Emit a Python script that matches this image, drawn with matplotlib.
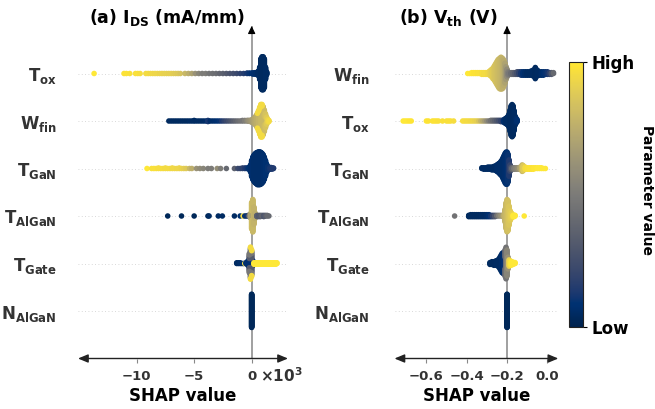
import numpy as np
import matplotlib
matplotlib.use("Agg")
import matplotlib.pyplot as plt
from matplotlib.colors import Normalize
from matplotlib.cm import ScalarMappable
from matplotlib.transforms import blended_transform_factory

plt.rcParams["font.family"] = ["DejaVu Sans"]
plt.rcParams["font.weight"] = "bold"
plt.rcParams["axes.labelweight"] = "bold"

# ---------------------------------------------------------------------------
# (a) I_DS : SHAP values in units of 10^3 mA/mm
#     *_shap = SHAP value, *_n = number of samples at that value,
#     *_level = normalised parameter value (0 = low, 1 = high)
# ---------------------------------------------------------------------------
ids_tox_shap = [-13.7, -11.1, -10.9, -10.6, -10.1, -9.9, -9.7,
                -9.2, -9.0, -8.8, -8.6, -8.4, -8.2, -8.0, -7.8, -7.6, -7.4, -7.2, -7.0, -6.8, -6.6, -6.4, -6.2,
                -5.8, -5.5, -5.2, -4.9, -4.6, -4.3, -4.0, -3.7, -3.4, -3.1, -2.8, -2.5, -2.2, -1.9, -1.6, -1.3,
                -1.0, -0.7, -0.4, -0.2,
                0.0, 0.1, 0.2, 0.3, 0.4, 0.5, 0.6, 0.7, 0.8, 0.9, 1.0, 1.1, 1.2, 1.3]
ids_tox_n = [1, 1, 1, 1, 1, 1, 1,
             1, 1, 1, 1, 1, 1, 1, 1, 1, 1, 1, 1, 1, 1, 1, 1,
             1, 1, 1, 1, 1, 1, 1, 1, 1, 1, 1, 1, 1, 1, 1, 1,
             1, 1, 2, 2,
             2, 3, 3, 4, 5, 7, 12, 30, 70, 80, 80, 70, 30, 8]
ids_tox_level = [1.0, 0.98, 0.98, 0.97, 0.97, 0.97, 0.96,
                 0.95, 0.95, 0.94, 0.94, 0.93, 0.93, 0.92, 0.92, 0.91, 0.91, 0.9, 0.9, 0.89, 0.88, 0.87, 0.85,
                 0.8, 0.75, 0.7, 0.62, 0.55, 0.5, 0.5, 0.46, 0.44, 0.42, 0.38, 0.35, 0.32, 0.28, 0.25, 0.22,
                 0.18, 0.15, 0.12, 0.1,
                 0.08, 0.08, 0.07, 0.07, 0.06, 0.06, 0.05, 0.05, 0.04, 0.04, 0.04, 0.04, 0.05, 0.05]

ids_wfin_shap = [-7.2, -7.0, -6.8, -6.6, -6.4, -6.2, -6.0, -5.8, -5.6, -5.4, -5.2, -5.0,
                 -4.8, -4.6, -4.4, -4.2, -4.0, -3.8, -3.6, -3.4, -3.2, -3.0, -2.8, -2.6,
                 -2.4, -2.2, -2.0, -1.8, -1.6, -1.4, -1.2, -1.0, -0.8, -0.6, -0.4, -0.3,
                 1.0, 1.1, 1.2, 1.3,
                 -0.2, -0.1, 0.0, 0.1, 0.2, 0.3, 0.4, 0.5, 0.6, 0.7, 0.8, 0.9, 1.0, 1.1, 1.2, 1.3, 1.4, 1.5,
                 0.5, 0.6, 0.7, 0.8, 0.9]
ids_wfin_n = [1, 1, 1, 1, 1, 1, 1, 1, 1, 1, 1, 2,
              1, 1, 1, 1, 1, 3, 1, 1, 1, 1, 1, 1,
              1, 1, 1, 1, 1, 1, 1, 1, 2, 2, 2, 2,
              10, 14, 12, 6,
              2, 3, 5, 7, 10, 14, 20, 26, 34, 44, 52, 52, 42, 26, 14, 8, 6, 3,
              2, 4, 6, 8, 8]
ids_wfin_level = [0.04, 0.04, 0.04, 0.04, 0.04, 0.04, 0.04, 0.04, 0.04, 0.05, 0.05, 0.05,
                  0.05, 0.05, 0.05, 0.05, 0.06, 0.12, 0.06, 0.06, 0.07, 0.08, 0.1, 0.14,
                  0.18, 0.22, 0.26, 0.3, 0.34, 0.38, 0.42, 0.45, 0.48, 0.52, 0.56, 0.6,
                  0.97, 0.97, 0.97, 0.97,
                  0.62, 0.64, 0.66, 0.68, 0.7, 0.72, 0.74, 0.76, 0.78, 0.78, 0.8, 0.8, 0.8, 0.82, 0.85, 0.88,
                  0.92, 0.95,
                  0.95, 0.95, 0.95, 0.95, 0.95]

ids_tgan_shap = [-9.1, -8.7, -8.5, -8.3, -8.1, -7.9, -7.7, -7.5, -7.3, -7.1, -6.9, -6.7, -6.5, -6.3, -6.1,
                 -5.9, -5.7,
                 -5.4, -5.2, -4.8, -4.5, -4.2, -3.8, -3.5, -3.0, -2.7, -2.2, -1.5,
                 -1.2, -1.0, -0.8, -0.6, -0.45,
                 -0.3, -0.2, -0.1, 0.0, 0.1, 0.2, 0.3, 0.4, 0.5, 0.6, 0.7, 0.8, 0.9, 1.0, 1.1, 1.2, 1.3,
                 1.4, 1.5, 1.6, 1.7, 1.8, 1.9]
ids_tgan_n = [1, 1, 1, 1, 2, 1, 1, 2, 1, 1, 2, 1, 1, 2, 1,
              1, 1,
              1, 1, 1, 1, 1, 1, 1, 1, 1, 1, 1,
              1, 1, 2, 2, 2,
              2, 6, 15, 35, 48, 56, 62, 66, 69, 70, 70, 68, 64, 58, 48, 34, 18,
              8, 5, 4, 4, 3, 2]
ids_tgan_level = [1.0, 0.97, 0.97, 0.97, 0.96, 0.96, 0.96, 0.95, 0.95, 0.95, 0.94, 0.94, 0.93, 0.93, 0.92,
                  0.9, 0.88,
                  0.8, 0.75, 0.62, 0.58, 0.55, 0.5, 0.5, 0.6, 0.5, 0.4, 0.35,
                  0.22, 0.2, 0.18, 0.15, 0.12,
                  0.1, 0.09, 0.08, 0.07, 0.07, 0.06, 0.06, 0.06, 0.06, 0.06, 0.06, 0.06, 0.06, 0.07, 0.07,
                  0.08, 0.08,
                  0.1, 0.1, 0.12, 0.12, 0.14, 0.14]

ids_talgan_shap = [-7.3, -6.1, -5.0, -3.8, -3.7, -2.9, -2.55, -1.5, -1.0, -0.75, -0.6, -0.45, -0.3,
                   0.0, 0.1,
                   -0.2, -0.1, 0.0, 0.1, 0.2, 0.3,
                   0.45, 0.6, 0.75, 0.9, 1.05, 1.2, 1.35, 1.5]
ids_talgan_n = [1, 1, 1, 1, 1, 1, 1, 1, 1, 1, 1, 1, 2,
                16, 16,
                3, 8, 30, 40, 30, 10,
                3, 3, 3, 2, 3, 2, 2, 1]
ids_talgan_level = [0.03, 0.03, 0.03, 0.03, 0.05, 0.05, 0.05, 0.05, 0.08, 0.95, 0.1, 0.1, 0.15,
                    0.98, 0.98,
                    0.4, 0.7, 0.82, 0.8, 0.78, 0.75,
                    0.35, 0.3, 0.32, 0.38, 0.3, 0.34, 0.4, 0.4]

ids_tgate_shap = [-1.3, -1.15, -1.0, -0.85, -0.7, -0.6, -0.5,
                  -0.4, -0.3, -0.2, -0.1, 0.0, 0.1,
                  -0.2, -0.1, 0.0,
                  -0.2, -0.1, 0.0,
                  -0.1, 0.0,
                  0.2, 0.3, 0.4, 0.5, 0.6, 0.7, 0.8, 0.9, 1.0, 1.1, 1.2, 1.3, 1.4, 1.5, 1.6, 1.7, 1.8, 1.9,
                  2.0, 2.1, 2.2]
ids_tgate_n = [2, 2, 2, 1, 1, 1, 2,
               4, 8, 12, 16, 12, 8,
               10, 16, 14,
               6, 10, 8,
               4, 4,
               3, 3, 3, 3, 3, 3, 3, 3, 3, 3, 3, 3, 3, 3, 3, 3, 3, 3,
               3, 3, 2]
ids_tgate_level = [0.05, 0.05, 0.06, 0.06, 0.08, 0.95, 0.1,
                   0.08, 0.08, 0.08, 0.08, 0.08, 0.08,
                   0.32, 0.32, 0.32,
                   0.48, 0.48, 0.48,
                   0.95, 0.95,
                   1.0, 1.0, 1.0, 1.0, 1.0, 1.0, 1.0, 1.0, 1.0, 1.0, 1.0, 1.0, 1.0, 1.0, 1.0, 1.0, 1.0, 1.0,
                   1.0, 1.0, 1.0]

ids_nalgan_shap = [0.0]
ids_nalgan_n = [100]
ids_nalgan_level = [0.03]

# ---------------------------------------------------------------------------
# (b) V_th : SHAP values in V
# ---------------------------------------------------------------------------
vth_wfin_shap = [-0.395, -0.385, -0.375, -0.365, -0.355, -0.345, -0.335, -0.325, -0.315, -0.305, -0.295,
                 -0.29, -0.285, -0.28, -0.275, -0.27, -0.265, -0.26, -0.255, -0.25, -0.245,
                 -0.24, -0.235, -0.23, -0.225, -0.22, -0.215, -0.21, -0.205, -0.2, -0.195,
                 -0.19, -0.18, -0.17, -0.16, -0.15, -0.14, -0.13, -0.12, -0.11, -0.1, -0.09, -0.08,
                 -0.07, -0.06, -0.05, -0.04, -0.03, -0.02, -0.01, 0.0, 0.01, 0.02, 0.03]
vth_wfin_n = [1, 1, 2, 2, 2, 2, 2, 3, 3, 3, 3,
              4, 6, 8, 10, 13, 16, 20, 24, 28, 32,
              35, 37, 38, 37, 35, 30, 24, 16, 10, 5,
              3, 3, 3, 3, 4, 4, 5, 5, 5, 5, 5, 6,
              8, 14, 8, 5, 5, 5, 4, 4, 3, 3, 2]
vth_wfin_level = [1.0, 1.0, 0.99, 0.98, 0.98, 0.97, 0.97, 0.96, 0.95, 0.95, 0.94,
                  0.93, 0.92, 0.9, 0.89, 0.88, 0.86, 0.85, 0.84, 0.83, 0.82,
                  0.81, 0.8, 0.79, 0.78, 0.76, 0.74, 0.7, 0.65, 0.58, 0.52,
                  0.48, 0.42, 0.38, 0.32, 0.26, 0.18, 0.12, 0.08, 0.06, 0.05, 0.05, 0.05,
                  0.05, 0.04, 0.05, 0.05, 0.06, 0.08, 0.1, 0.12, 0.18, 0.3, 0.4]

vth_tox_shap = [-0.715, -0.705, -0.695, -0.685, -0.675, -0.6, -0.59, -0.57, -0.56, -0.55, -0.54, -0.52,
                -0.5, -0.49, -0.48, -0.465, -0.42, -0.41, -0.4, -0.39, -0.38, -0.37, -0.36, -0.35,
                -0.34, -0.33, -0.32, -0.31, -0.3, -0.29, -0.28, -0.27, -0.26, -0.25, -0.24, -0.23, -0.22,
                -0.215, -0.21, -0.205, -0.2, -0.195, -0.19, -0.185, -0.18, -0.175, -0.17, -0.165, -0.16,
                -0.155, -0.15]
vth_tox_n = [1, 1, 1, 1, 1, 1, 1, 1, 1, 1, 1, 1,
             1, 1, 1, 1, 1, 1, 1, 1, 1, 1, 1, 1,
             1, 1, 1, 1, 1, 1, 2, 2, 2, 2, 2, 3, 3,
             5, 7, 9, 11, 14, 20, 32, 44, 48, 44, 30, 14,
             8, 4]
vth_tox_level = [1.0, 1.0, 1.0, 0.99, 0.99, 0.99, 0.98, 0.98, 0.98, 0.98, 0.97, 0.97,
                 0.97, 0.97, 0.97, 0.96, 0.96, 0.96, 0.95, 0.95, 0.94, 0.93, 0.92, 0.9,
                 0.85, 0.78, 0.72, 0.66, 0.58, 0.5, 0.45, 0.4, 0.35, 0.3, 0.25, 0.2, 0.14,
                 0.08, 0.06, 0.05, 0.05, 0.05, 0.05, 0.04, 0.04, 0.04, 0.04, 0.05, 0.05,
                 0.06, 0.08]

vth_tgan_shap = [-0.325, -0.315, -0.305, -0.295, -0.285, -0.275, -0.265, -0.255,
                 -0.25, -0.245, -0.24, -0.235, -0.23, -0.225, -0.22, -0.215, -0.21, -0.205, -0.2, -0.195,
                 -0.19, -0.185, -0.18,
                 -0.175, -0.165, -0.155, -0.145, -0.135, -0.125, -0.12, -0.11, -0.1, -0.09, -0.08, -0.07,
                 -0.06, -0.05, -0.04, -0.03, -0.02, -0.01]
vth_tgan_n = [2, 3, 3, 4, 4, 5, 6, 8,
              10, 12, 14, 17, 20, 24, 30, 36, 42, 46, 46, 40,
              24, 10, 5,
              3, 3, 3, 3, 4, 10, 8, 4, 3, 3, 3, 3,
              2, 2, 2, 2, 1, 1]
vth_tgan_level = [0.05, 0.05, 0.05, 0.05, 0.05, 0.05, 0.05, 0.05,
                  0.06, 0.06, 0.06, 0.06, 0.06, 0.06, 0.06, 0.06, 0.07, 0.07, 0.08, 0.1,
                  0.14, 0.2, 0.28,
                  0.4, 0.5, 0.55, 0.6, 0.7, 0.8, 0.88, 0.95, 0.97, 0.98, 0.98, 0.99,
                  0.99, 1.0, 1.0, 1.0, 1.0, 1.0]

vth_talgan_shap = [-0.46,
                   -0.39, -0.38, -0.37, -0.36, -0.35, -0.34, -0.33, -0.32, -0.31, -0.3, -0.29, -0.28,
                   -0.27, -0.26, -0.25, -0.24, -0.23, -0.22, -0.215,
                   -0.21, -0.205, -0.2, -0.195, -0.19, -0.185, -0.18, -0.175,
                   -0.17, -0.165, -0.16, -0.115]
vth_talgan_n = [1,
                3, 4, 4, 4, 4, 4, 4, 4, 4, 4, 4, 3,
                3, 3, 2, 2, 2, 3, 4,
                20, 40, 50, 46, 30, 16, 10, 6,
                3, 3, 2, 1]
vth_talgan_level = [0.45,
                    0.04, 0.04, 0.04, 0.04, 0.04, 0.04, 0.05, 0.05, 0.05, 0.06, 0.08, 0.12,
                    0.2, 0.3, 0.45, 0.55, 0.62, 0.7, 0.75,
                    0.78, 0.8, 0.82, 0.84, 0.86, 0.88, 0.9, 0.92,
                    1.0, 1.0, 1.0, 1.0]

vth_tgate_shap = [-0.285, -0.275, -0.265, -0.255, -0.245,
                  -0.24, -0.235, -0.23, -0.225, -0.22, -0.215, -0.21,
                  -0.21, -0.205, -0.2, -0.195,
                  -0.19, -0.185, -0.18, -0.175, -0.17, -0.165, -0.16]
vth_tgate_n = [3, 4, 5, 6, 8,
               10, 14, 18, 22, 24, 24, 12,
               18, 36, 30, 14,
               8, 6, 5, 4, 3, 2, 2]
vth_tgate_level = [0.04, 0.04, 0.04, 0.05, 0.05,
                   0.05, 0.05, 0.05, 0.06, 0.06, 0.08, 0.1,
                   0.38, 0.45, 0.55, 0.62,
                   0.9, 0.95, 1.0, 1.0, 1.0, 1.0, 1.0]

vth_nalgan_shap = [-0.2]
vth_nalgan_n = [100]
vth_nalgan_level = [0.03]

# feature labels, top row first
ids_features = [r"$\mathbf{T_{ox}}$", r"$\mathbf{W_{fin}}$", r"$\mathbf{T_{GaN}}$",
                r"$\mathbf{T_{AlGaN}}$", r"$\mathbf{T_{Gate}}$", r"$\mathbf{N_{AlGaN}}$"]
vth_features = [r"$\mathbf{W_{fin}}$", r"$\mathbf{T_{ox}}$", r"$\mathbf{T_{GaN}}$",
                r"$\mathbf{T_{AlGaN}}$", r"$\mathbf{T_{Gate}}$", r"$\mathbf{N_{AlGaN}}$"]

ids_rows = [(ids_tox_shap, ids_tox_n, ids_tox_level),
            (ids_wfin_shap, ids_wfin_n, ids_wfin_level),
            (ids_tgan_shap, ids_tgan_n, ids_tgan_level),
            (ids_talgan_shap, ids_talgan_n, ids_talgan_level),
            (ids_tgate_shap, ids_tgate_n, ids_tgate_level),
            (ids_nalgan_shap, ids_nalgan_n, ids_nalgan_level)]
vth_rows = [(vth_wfin_shap, vth_wfin_n, vth_wfin_level),
            (vth_tox_shap, vth_tox_n, vth_tox_level),
            (vth_tgan_shap, vth_tgan_n, vth_tgan_level),
            (vth_talgan_shap, vth_talgan_n, vth_talgan_level),
            (vth_tgate_shap, vth_tgate_n, vth_tgate_level),
            (vth_nalgan_shap, vth_nalgan_n, vth_nalgan_level)]

ids_ticks = [-10, -5, 0]
vth_ticks = [-0.6, -0.4, -0.2, 0.0]
ids_base = 0.0
vth_base = -0.2


def swarm_offsets(x, row_height=0.4):
    """Stack samples sharing a SHAP value alternately above/below the row."""
    y = np.zeros(len(x))
    for v in np.unique(x):
        idx = np.flatnonzero(x == v)
        layer = np.arange(len(idx))
        y[idx] = np.ceil(layer / 2) * ((layer % 2) * 2 - 1)
    return y * 0.9 * row_height / (y.max() + 1)


def draw_panel(ax, rows, features, ticks, base, xlim, ypad):
    n = len(rows)
    positions = [n - 1 - i for i in range(n)]
    for pos, (shap, counts, level) in zip(positions, rows):
        assert len(shap) == len(counts) == len(level)
        x = np.repeat(np.asarray(shap, float), counts)
        c = np.repeat(np.asarray(level, float), counts)
        y = pos + swarm_offsets(x)
        ax.axhline(pos, color="#cccccc", lw=0.6, dashes=(1, 3), zorder=-1)
        ax.scatter(x, y, c=c, cmap="cividis", vmin=0, vmax=1, s=16,
                   linewidths=0, zorder=3)
    ax.set_xlim(*xlim)
    ax.set_ylim(-1, n)
    ax.axvline(base, color="#999999", lw=1.3, zorder=-1)
    trans = blended_transform_factory(ax.transData, ax.transAxes)
    ax.annotate("", xy=(base, 1.0), xycoords=trans, xytext=(base, 0.99),
                textcoords=trans, annotation_clip=False,
                arrowprops=dict(arrowstyle="-|>,head_length=0.45,head_width=0.22",
                                color="black", lw=0.8, shrinkA=0, shrinkB=0))
    ax.annotate("", xy=(1, 0), xycoords="axes fraction", xytext=(0, 0),
                textcoords="axes fraction", annotation_clip=False,
                arrowprops=dict(arrowstyle="<|-|>,head_length=0.6,head_width=0.25",
                                color="#222222", lw=1.0, shrinkA=0, shrinkB=0))
    for s in ax.spines.values():
        s.set_visible(False)
    ax.set_yticks(positions)
    ax.set_yticklabels(features, fontsize=12, color="#333333")
    ax.tick_params(axis="y", length=0, pad=ypad)
    ax.set_xticks(ticks)
    ax.tick_params(axis="x", length=3, width=0.8, color="#888888",
                   labelcolor="#333333", labelsize=9.5, pad=5)
    ax.set_xlabel("SHAP value", fontsize=12, fontweight="bold", labelpad=3, color="black")
    ax.patch.set_alpha(0)


fig = plt.figure(figsize=(6.55, 4.09), dpi=100)
W, H = 655.0, 409.0

ax_a = fig.add_axes([78 / W, 50.5 / H, 210 / W, 332.5 / H])
draw_panel(ax_a, ids_rows, ids_features, ids_ticks, ids_base, (-15.10, 3.16), 15.5)

ax_b = fig.add_axes([394.5 / W, 50.5 / H, 163.8 / W, 332.5 / H])
draw_panel(ax_b, vth_rows, vth_features, vth_ticks, vth_base, (-0.758, 0.054), 18)

fig.text(167 / W, 1 - 17 / H, r"(a) $\mathbf{I_{DS}}$ (mA/mm)", ha="center", va="center",
         fontsize=12.5, fontweight="bold")
fig.text(448 / W, 1 - 17 / H, r"(b) $\mathbf{V_{th}}$ (V)", ha="center", va="center",
         fontsize=12.5, fontweight="bold")
fig.text(260 / W, 1 - 381.5 / H, r"$\times10^{3}$", ha="left", va="baseline",
         fontsize=11, fontweight="normal", color="#333333")

cax = fig.add_axes([569 / W, 82.3 / H, 14 / W, 264.7 / H])
sm = ScalarMappable(norm=Normalize(0, 1), cmap="cividis")
cb = fig.colorbar(sm, cax=cax, ticks=[0, 1])
cb.set_ticklabels(["Low", "High"])
cb.ax.tick_params(labelsize=12, length=3, width=0.8, pad=3)
cb.outline.set_linewidth(0.8)
cb.outline.set_edgecolor("#222222")
# place the colour-bar title explicitly so it stays inside the figure
cb.ax.text(647 / W, 1 - 190 / H, "Parameter value", transform=fig.transFigure,
           rotation=270, ha="center", va="center", fontsize=10, fontweight="bold")

fig.savefig("out.png", dpi=100)
